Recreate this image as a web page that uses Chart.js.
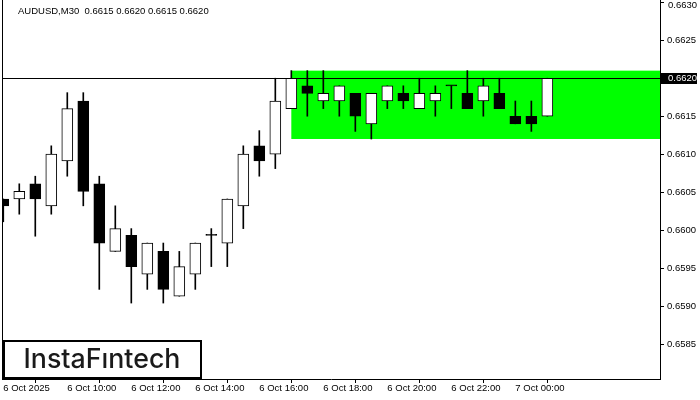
<!DOCTYPE html>
<html lang="en">
<head>
<meta charset="UTF-8" />
<title>AUDUSD M30</title>
<style>
  html, body { margin: 0; padding: 0; background: #fff; }
  .wrap { position: relative; width: 700px; height: 400px; }
</style>
</head>
<body>
<div class="wrap"><canvas id="chart-1"></canvas></div>
<script src="https://cdn.jsdelivr.net/npm/chart.js"></script>
<script>
const symbol = "AUDUSD,M30";
// M30 candles from 6 Oct 2025 08:00 to 7 Oct 01:00
const openPrices = [0.66041, 0.66041, 0.66061, 0.66032, 0.66091, 0.66170, 0.66061, 0.65972, 0.65993, 0.65942,
  0.65972, 0.65913, 0.65942, 0.65993, 0.65983, 0.66032, 0.66111, 0.66100, 0.66160, 0.66190,
  0.66170, 0.66170, 0.66180, 0.66140, 0.66170, 0.66180, 0.66160, 0.66170, 0.66190, 0.66180,
  0.66170, 0.66180, 0.66150, 0.66150, 0.66150];
const highPrices = [0.66041, 0.66061, 0.66071, 0.66111, 0.66181, 0.66181, 0.66071, 0.66032, 0.66002, 0.65983,
  0.65983, 0.65972, 0.65983, 0.66002, 0.66041, 0.66111, 0.66131, 0.66200, 0.66210, 0.66210,
  0.66210, 0.66190, 0.66180, 0.66180, 0.66190, 0.66190, 0.66200, 0.66190, 0.66190, 0.66210,
  0.66200, 0.66200, 0.66170, 0.66170, 0.66200];
const lowPrices = [0.66011, 0.66021, 0.65992, 0.66021, 0.66071, 0.66032, 0.65922, 0.65972, 0.65904, 0.65922,
  0.65904, 0.65913, 0.65922, 0.65952, 0.65952, 0.66002, 0.66071, 0.66081, 0.66160, 0.66150,
  0.66160, 0.66150, 0.66130, 0.66120, 0.66160, 0.66160, 0.66160, 0.66150, 0.66160, 0.66160,
  0.66150, 0.66160, 0.66140, 0.66130, 0.66150];
const closePrices = [0.66032, 0.66051, 0.66041, 0.66100, 0.66160, 0.66051, 0.65983, 0.66002, 0.65952, 0.65983,
  0.65922, 0.65952, 0.65983, 0.65993, 0.66041, 0.66100, 0.66091, 0.66170, 0.66200, 0.66180,
  0.66180, 0.66190, 0.66150, 0.66180, 0.66190, 0.66170, 0.66180, 0.66180, 0.66190, 0.66160,
  0.66190, 0.66160, 0.66140, 0.66140, 0.66200];
// one label every 4 candles (2 hours)
const timeLabels = ["6 Oct 2025", "6 Oct 10:00", "6 Oct 12:00", "6 Oct 14:00", "6 Oct 16:00",
  "6 Oct 18:00", "6 Oct 20:00", "6 Oct 22:00", "7 Oct 00:00"];
const priceTicks = [0.6585, 0.6590, 0.6595, 0.6600, 0.6605, 0.6610, 0.6615, 0.6620, 0.6625, 0.6630];
// green rectangle (range zone)
const zoneStart = 18;
const zoneTop = 0.66210;
const zoneBottom = 0.66120;

const axisFont = { family: "Liberation Sans", size: 9.5 };
const last = closePrices.length - 1;
const topTick = priceTicks[priceTicks.length - 1];

const bodies = openPrices.map((o, i) => ({ x: i, y: [o, closePrices[i]] }));
const wicks = highPrices.map((h, i) => ({ x: i, y: [lowPrices[i], h] }));
const bodyFill = openPrices.map((o, i) => (closePrices[i] > o ? "#ffffff" : "#000000"));

const mtPlugin = {
  id: "mt",
  beforeDatasetsDraw(chart) {
    const { ctx, chartArea: a, scales: { x, y } } = chart;
    ctx.save();
    ctx.fillStyle = "#00ff00";
    const x0 = x.getPixelForValue(zoneStart);
    const y0 = y.getPixelForValue(zoneTop);
    const y1 = y.getPixelForValue(zoneBottom);
    ctx.fillRect(x0, y0, a.right - x0, y1 - y0);
    // last price line
    const ly = Math.round(y.getPixelForValue(closePrices[last])) + 0.5;
    ctx.strokeStyle = "#000";
    ctx.lineWidth = 1;
    ctx.beginPath();
    ctx.moveTo(a.left, ly);
    ctx.lineTo(a.right, ly);
    ctx.stroke();
    ctx.restore();
  },
  afterDraw(chart) {
    const { ctx, chartArea: a, scales: { y } } = chart;
    ctx.save();
    // left frame
    ctx.strokeStyle = "#000";
    ctx.lineWidth = 1;
    ctx.beginPath();
    ctx.moveTo(a.left + 0.5, a.top);
    ctx.lineTo(a.left + 0.5, a.bottom);
    ctx.stroke();

    // header text
    ctx.font = "9.5px 'Liberation Sans'";
    ctx.fillStyle = "#000";
    ctx.textBaseline = "middle";
    const ohlc = [openPrices[last], highPrices[last], lowPrices[last], closePrices[last]]
      .map(v => v.toFixed(4)).join(" ");
    ctx.fillText(symbol + "  " + ohlc, 18, 11);

    // top price label sits just below its tick
    ctx.textBaseline = "top";
    ctx.fillText(topTick.toFixed(4), a.right + 8, 1);
    ctx.textBaseline = "middle";

    // last price marker on the axis
    const ly = Math.round(y.getPixelForValue(closePrices[last]));
    ctx.fillStyle = "#000";
    ctx.fillRect(a.right + 1, ly - 5, 36, 11);
    ctx.fillStyle = "#fff";
    ctx.fillText(closePrices[last].toFixed(4), a.right + 8, ly + 0.5);

    // logo box
    ctx.fillStyle = "#fff";
    ctx.fillRect(3, 340, 199, 38);
    ctx.strokeStyle = "#000";
    ctx.lineWidth = 2;
    ctx.strokeRect(4, 341, 197, 37);
    let fs = 26;
    ctx.font = "500 " + fs + "px Inter";
    const w = ctx.measureText("InstaF\u0131ntech").width;
    fs = fs * 157 / w;
    ctx.font = "500 " + fs + "px Inter";
    ctx.fillStyle = "#1a1a1a";
    ctx.textAlign = "center";
    ctx.fillText("InstaF\u0131ntech", 102, 360);
    ctx.restore();
  }
};

new Chart(document.getElementById("chart-1"), {
  type: "bar",
  data: {
    datasets: [
      {
        label: "body",
        data: bodies,
        backgroundColor: bodyFill,
        borderColor: "#000",
        borderWidth: 1,
        borderSkipped: false,
        barThickness: 11,
        minBarLength: 1,
        grouped: false,
        order: 1
      },
      {
        label: "wick",
        data: wicks,
        backgroundColor: "#000",
        borderWidth: 0,
        barThickness: 1,
        grouped: false,
        order: 2
      }
    ]
  },
  options: {
    responsive: true,
    maintainAspectRatio: false,
    animation: false,
    layout: { padding: { left: 2, top: 0, right: 0, bottom: 0 } },
    plugins: { legend: { display: false }, tooltip: { enabled: false } },
    scales: {
      x: {
        type: "linear",
        min: -0.08,
        max: 41.04,
        offset: false,
        afterBuildTicks: s => { s.ticks = timeLabels.map((_, i) => ({ value: i * 4 })); },
        afterFit: s => { s.height = 21; s.paddingLeft = 0; s.paddingRight = 0; },
        grid: { drawOnChartArea: false, drawTicks: true, tickLength: 4, tickColor: "#000" },
        border: { display: true, color: "#000", width: 1 },
        ticks: {
          autoSkip: false,
          maxRotation: 0,
          align: "start",
          padding: 0,
          color: "#000",
          font: axisFont,
          callback: v => timeLabels[Math.round(v / 4)] || ""
        }
      },
      y: {
        position: "right",
        min: 0.65804,
        max: 0.66303,
        afterBuildTicks: s => { s.ticks = priceTicks.map(v => ({ value: v })); },
        afterFit: s => { s.width = 40; s.paddingTop = 0; s.paddingBottom = 0; },
        grid: { drawOnChartArea: false, drawTicks: true, tickLength: 4, tickColor: "#000" },
        border: { display: true, color: "#000", width: 1 },
        ticks: {
          padding: 3,
          color: "#000",
          font: axisFont,
          // the top label is drawn by the plugin
          callback: v => (Math.abs(v - topTick) < 1e-7 ? "" : v.toFixed(4))
        }
      }
    }
  },
  plugins: [mtPlugin]
});
</script>
</body>
</html>
